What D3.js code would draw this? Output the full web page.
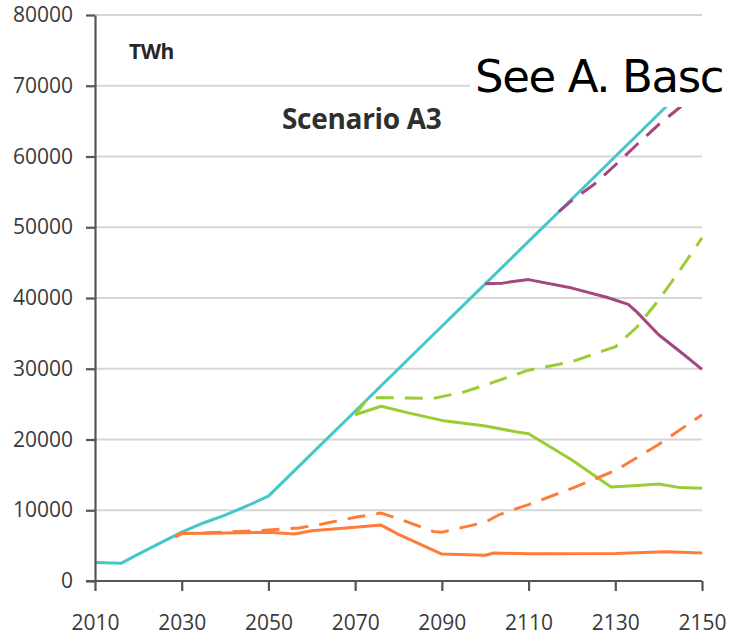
<!DOCTYPE html>
<html>
<head>
<meta charset="utf-8">
<script src="https://cdn.jsdelivr.net/npm/d3@7"></script>
<style>
  html, body { margin: 0; padding: 0; background: #fff; }
  svg { display: block; }
</style>
</head>
<body>
<svg id="chart" width="732" height="643"></svg>
<script>
// Electricity demand, scenario A3 (TWh)
const xTicks = [2010, 2030, 2050, 2070, 2090, 2110, 2130, 2150];
const yTicks = [0, 10000, 20000, 30000, 40000, 50000, 60000, 70000, 80000];

// total demand
const totalSeries = [
  [2010, 2600], [2016, 2500], [2020, 3800], [2030, 6900], [2035, 8200],
  [2040, 9300], [2045, 10600], [2050, 12000], [2060, 18000], [2070, 24000],
  [2080, 30000], [2090, 36000], [2100, 42000], [2110, 48000], [2120, 54000],
  [2130, 60000], [2140, 66000], [2150, 72000]
];
// orange, solid and dashed
const orangeSolid = [
  [2028.5, 6200], [2030, 6700], [2040, 6800], [2050, 6900], [2056, 6650],
  [2060, 7100], [2070, 7600], [2076, 7900], [2080, 6600], [2090, 3800],
  [2100, 3650], [2102, 3950], [2110, 3850], [2130, 3900], [2140, 4100],
  [2142, 4150], [2150, 3950]
];
const orangeDashed = [
  [2028.5, 6300], [2030, 6700], [2040, 6900], [2050, 7200], [2057, 7500],
  [2062, 8000], [2070, 9000], [2076, 9600], [2080, 8800], [2088, 7000],
  [2090, 6900], [2100, 8300], [2103, 9300], [2106, 10000], [2110, 10800],
  [2120, 13100], [2130, 15600], [2140, 19300], [2150, 23500]
];
// green, solid and dashed
const greenSolid = [
  [2070, 23500], [2076, 24700], [2082, 23800], [2090, 22700], [2100, 21900],
  [2108, 21000], [2110, 20800], [2120, 17100], [2129, 13300], [2135, 13500],
  [2140, 13700], [2145, 13200], [2150, 13100]
];
const greenDashed = [
  [2070, 23500], [2073, 25900], [2080, 25900], [2088, 25800], [2095, 26700],
  [2100, 27700], [2110, 29800], [2120, 31000], [2128, 32700], [2130, 33100],
  [2135, 35900], [2140, 39700], [2145, 44000], [2150, 48500]
];
// magenta, solid and dashed
const magentaSolid = [
  [2100, 42000], [2104, 42100], [2106, 42300], [2110, 42600], [2120, 41400],
  [2128, 40100], [2133, 39100], [2135, 38000], [2140, 34800], [2145, 32400],
  [2150, 29900]
];
const magentaDashed = [
  [2117, 52200], [2120, 53800], [2125, 56000], [2130, 58800], [2135, 61700],
  [2140, 64500], [2145, 67000], [2150, 70000]
];

const svg = d3.select("#chart");
const x = d3.scaleLinear().domain([2010, 2150]).range([95, 702]);
const y = d3.scaleLinear().domain([0, 80000]).range([581, 15]);
const font = "'Open Sans', 'Noto Sans', sans-serif";

// horizontal gridlines
svg.append("g")
  .selectAll("line")
  .data(yTicks.filter(d => d > 0))
  .join("line")
  .attr("x1", x(2010)).attr("x2", x(2150))
  .attr("y1", d => y(d)).attr("y2", d => y(d))
  .attr("stroke", "#d6d6d6")
  .attr("stroke-width", 2);

// plotted series
const line = d3.line().x(d => x(d[0])).y(d => y(d[1]));
const series = [
  { data: totalSeries, color: "#45c6c8", dash: null },
  { data: magentaDashed, color: "#a5477f", dash: "18,11" },
  { data: magentaSolid, color: "#a5477f", dash: null },
  { data: greenDashed, color: "#9acd33", dash: "18,11" },
  { data: greenSolid, color: "#9acd33", dash: null },
  { data: orangeDashed, color: "#ff7c38", dash: "18,11" },
  { data: orangeSolid, color: "#ff7c38", dash: null }
];
svg.append("g")
  .selectAll("path")
  .data(series)
  .join("path")
  .attr("d", d => line(d.data))
  .attr("fill", "none")
  .attr("stroke", d => d.color)
  .attr("stroke-width", 3)
  .attr("stroke-linejoin", "round")
  .attr("stroke-dasharray", d => d.dash);

// axes
const yAxis = svg.append("g")
  .attr("transform", `translate(${x(2010)},0)`)
  .call(d3.axisLeft(y).tickValues(yTicks).tickSize(9).tickPadding(13)
    .tickFormat(d3.format("d")).tickSizeOuter(0));
const xAxis = svg.append("g")
  .attr("transform", `translate(0,${y(0)})`)
  .call(d3.axisBottom(x).tickValues(xTicks).tickSize(10).tickPadding(24)
    .tickFormat(d3.format("d")).tickSizeOuter(0));
[yAxis, xAxis].forEach(g => {
  g.select(".domain").attr("stroke", "#555").attr("stroke-width", 2.2);
  g.selectAll(".tick line").attr("stroke", "#555").attr("stroke-width", 2.2);
  g.selectAll(".tick text")
    .attr("fill", "#3a3a3a")
    .style("font-family", font)
    .style("font-size", "21px");
});
xAxis.select(".domain").attr("d", `M${x(2010) - 9},0H${x(2150)}`);

// unit and scenario labels
svg.append("text")
  .attr("x", 129).attr("y", 59)
  .style("font-family", font).style("font-weight", 700).style("font-size", "21px")
  .style("letter-spacing", "-0.5px")
  .attr("fill", "#262626")
  .text("TWh");
svg.append("text")
  .attr("x", 282).attr("y", 129)
  .style("font-family", font).style("font-weight", 700).style("font-size", "28px")
  .style("letter-spacing", "-0.3px")
  .attr("fill", "#2f2f2f")
  .text("Scenario A3");

// reference note on its own white box
svg.append("rect")
  .attr("x", 470).attr("y", 48).attr("width", 262).attr("height", 59)
  .attr("fill", "#fff");
svg.append("text")
  .attr("x", 475).attr("y", 92)
  .style("font-family", "'DejaVu Sans', sans-serif").style("font-size", "45px")
  .style("letter-spacing", "-1.4px")
  .attr("fill", "#000")
  .text("See A. Basc");
</script>
</body>
</html>
